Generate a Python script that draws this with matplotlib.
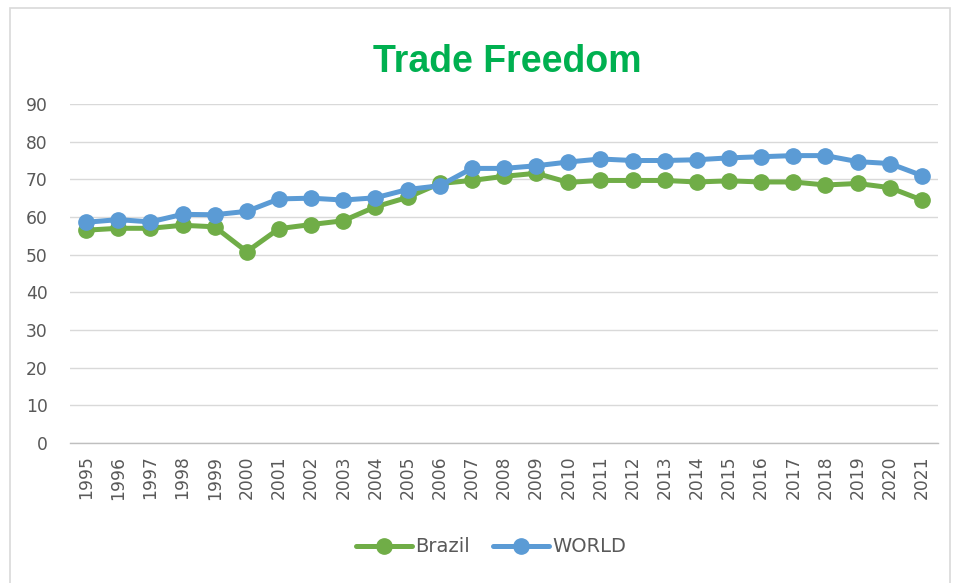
import matplotlib
matplotlib.use("Agg")
import matplotlib.pyplot as plt
from matplotlib.patches import Rectangle

years = [str(y) for y in range(1995, 2022)]
brazil = [56.5, 57.0, 57.0, 57.8, 57.4, 50.8, 56.9, 58.0, 59.0, 62.7, 65.2, 68.9, 69.7, 70.8,
          71.6, 69.2, 69.7, 69.7, 69.7, 69.3, 69.6, 69.3, 69.3, 68.5, 68.9, 67.8, 64.5]
world = [58.6, 59.3, 58.7, 60.7, 60.6, 61.5, 64.8, 65.0, 64.5, 65.1, 67.3, 68.3, 72.9, 72.9,
         73.6, 74.6, 75.4, 75.0, 75.0, 75.2, 75.7, 76.0, 76.3, 76.3, 74.7, 74.2, 71.0]
yticks = list(range(0, 100, 10))

plt.rcParams["font.family"] = ["DejaVu Sans"]
grey = "#595959"

fig = plt.figure(figsize=(9.56, 5.83), dpi=100)
fig.patches.append(Rectangle((10 / 956, -0.02), 940 / 956, 1 - 8 / 583 + 0.02,
                             transform=fig.transFigure, fill=False,
                             edgecolor="#d9d9d9", linewidth=1.2))
ax = fig.add_axes([70 / 956, 1 - 443 / 583, 868 / 956, 339 / 583])

x = list(range(len(years)))
ax.plot(x, brazil, color="#70AD47", linewidth=3.6, marker="o", markersize=11,
        label="Brazil", solid_capstyle="round", zorder=3)
ax.plot(x, world, color="#5B9BD5", linewidth=3.6, marker="o", markersize=11,
        label="WORLD", solid_capstyle="round", zorder=3)

ax.set_xlim(-0.5, len(years) - 0.5)
ax.set_ylim(0, 90)
ax.set_yticks(yticks)
ax.set_xticks(x)
ax.set_xticklabels(years, rotation=90)
ax.tick_params(axis="both", colors=grey, labelsize=12.3, length=0)
ax.tick_params(axis="x", pad=9)
ax.tick_params(axis="y", pad=16)
ax.grid(axis="y", color="#d9d9d9", linewidth=1)
ax.set_axisbelow(True)
for s in ["top", "right", "left"]:
    ax.spines[s].set_visible(False)
ax.spines["bottom"].set_color("#bfbfbf")
ax.spines["bottom"].set_linewidth(1)

fig.text(507 / 956, 1 - 62 / 583, "Trade Freedom", ha="center", va="center",
         fontsize=27, fontweight="bold", color="#00B050", family="Liberation Sans")

fig.legend(loc="center", bbox_to_anchor=(491 / 956, 1 - 547 / 583), ncol=2, frameon=False,
           fontsize=14, labelcolor=grey, handlelength=2.9, columnspacing=1.2,
           handletextpad=0.15)

fig.savefig("out.png", dpi=100)
